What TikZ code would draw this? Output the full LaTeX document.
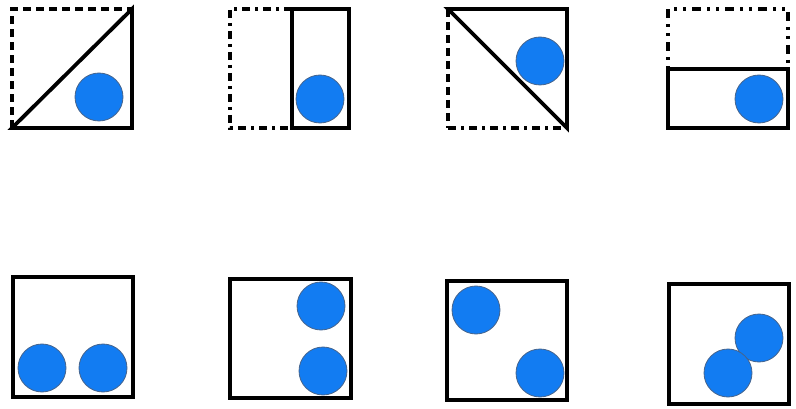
\documentclass[tikz,border=0pt]{standalone}
\definecolor{ballblue}{RGB}{18,124,242}
\definecolor{ballrim}{RGB}{70,100,140}
\tikzset{
  solidline/.style={line width=3.8pt, line cap=rect, line join=miter},
  dashline/.style={line width=3.8pt, dash pattern=on 8pt off 5pt},
  dashdotline/.style={line width=3.8pt, dash pattern=on 8pt off 5pt on 3pt off 5pt},
  dotline/.style={line width=3.8pt, dash pattern=on 3pt off 6pt on 3pt off 6pt on 9pt off 6pt},
  ball/.style={fill=ballblue, draw=ballrim, line width=0.8pt}
}
\begin{document}
\begin{tikzpicture}[x=1pt,y=-1pt]
\useasboundingbox (0,0) rectangle (796,409);
% Panel 1
\draw[dashline] (12,128) -- (12,9) -- (132,9);
\draw[solidline] (12,128) -- (132,128) -- (132,9) -- cycle;
\filldraw[ball] (99,97) circle (24);
% Panel 2
\draw[dashdotline] (292,9) -- (230,9) -- (230,128) -- (292,128);
\draw[solidline] (292,9) rectangle (349,128);
\filldraw[ball] (320,99) circle (24);
% Panel 3
\draw[dashline] (448,9) -- (448,128);
\draw[dashdotline] (448,128) -- (567,128);
\draw[solidline] (567,128) -- (567,9) -- (448,9) -- cycle;
\filldraw[ball] (540,61) circle (24);
% Panel 4
\draw[dotline] (668,69) -- (668,9) -- (788,9) -- (788,69);
\draw[solidline] (668,69) rectangle (788,128);
\filldraw[ball] (759,99) circle (24);
% Bottom row
\draw[solidline] (13,277) rectangle (133,397);
\filldraw[ball] (42,368) circle (24);
\filldraw[ball] (103,368) circle (24);
\draw[solidline] (230,279) rectangle (351,398);
\filldraw[ball] (321,306) circle (24);
\filldraw[ball] (323,371) circle (24);
\draw[solidline] (447,281) rectangle (567,400);
\filldraw[ball] (476,310) circle (24);
\filldraw[ball] (540,373) circle (24);
\draw[solidline] (669,284) rectangle (789,404);
\filldraw[ball] (759,338) circle (24);
\filldraw[ball] (728,373) circle (24);
\end{tikzpicture}
\end{document}
